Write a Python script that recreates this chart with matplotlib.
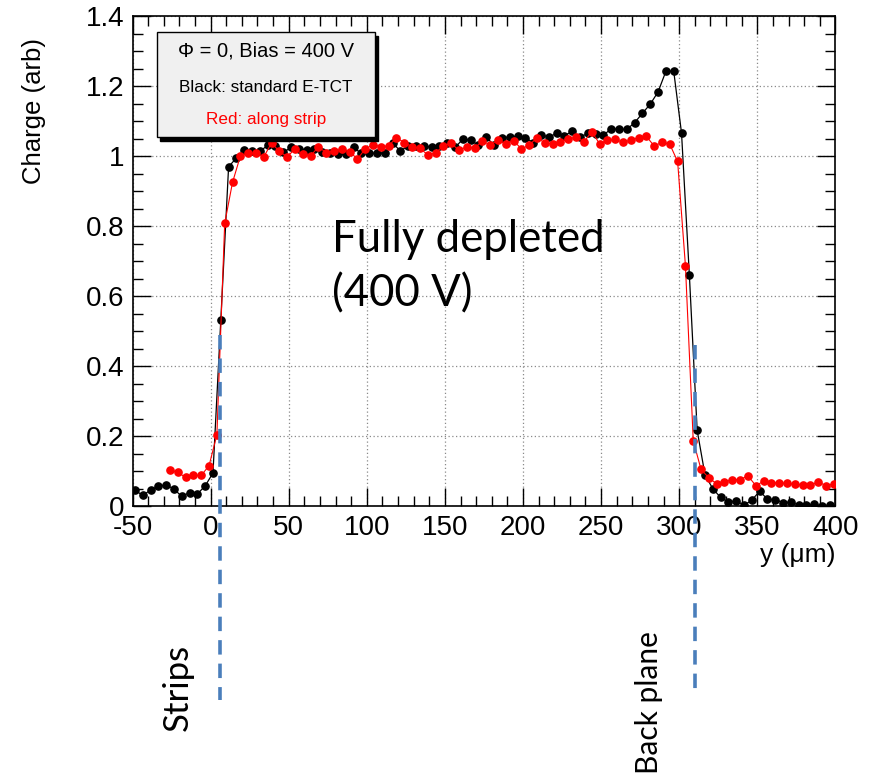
import numpy as np
import matplotlib
matplotlib.use("Agg")
import matplotlib.pyplot as plt
from matplotlib.patches import Rectangle
from matplotlib.ticker import MultipleLocator, FormatStrFormatter

# Scan positions (um): both scans step by 5 um
y_black = np.arange(-48.5, 400, 5.0)
y_red = np.arange(-26.0, 401, 5.0)

# Standard E-TCT charge profile
q_black = [
    0.046, 0.031, 0.046, 0.057, 0.061, 0.049, 0.028, 0.039, 0.035, 0.058,
    0.095, 0.531, 0.970, 0.995, 1.018, 1.014, 1.014, 1.031, 1.028, 1.011,
    1.025, 1.020, 1.019, 1.021, 1.011, 1.010, 1.006, 1.006, 1.025, 1.008,
    1.010, 1.008, 1.010, 1.038, 1.015, 1.030, 1.028, 1.030, 1.025, 1.030,
    1.037, 1.025, 1.049, 1.046, 1.031, 1.055, 1.031, 1.053, 1.055, 1.057,
    1.053, 1.039, 1.061, 1.055, 1.065, 1.059, 1.071, 1.055, 1.065, 1.063,
    1.060, 1.079, 1.077, 1.077, 1.096, 1.123, 1.149, 1.184, 1.243, 1.243,
    1.066, 0.662, 0.217, 0.090, 0.050, 0.025, 0.012, 0.015, 0.003, 0.017,
    0.043, 0.020, 0.019, 0.010, 0.012, 0.003, 0.002, 0.006, 0.000, 0.004,
]

# Charge profile with the laser along the strip
q_red = [
    0.103, 0.097, 0.082, 0.088, 0.088, 0.116,
    0.204, 0.808, 0.925, 1.000, 1.008, 1.008, 0.998, 1.038, 1.014, 0.998,
    1.021, 1.005, 1.001, 1.027, 1.010, 1.015, 1.020, 1.013, 0.992, 1.021,
    1.033, 1.027, 1.030, 1.053, 1.039, 1.027, 1.023, 1.004, 1.009, 1.030,
    1.037, 1.017, 1.027, 1.023, 1.044, 1.032, 1.046, 1.036, 1.044, 1.021,
    1.032, 1.053, 1.038, 1.036, 1.042, 1.049, 1.055, 1.041, 1.070, 1.036,
    1.045, 1.048, 1.040, 1.046, 1.053, 1.057, 1.029, 1.040, 1.034, 0.985,
    0.687, 0.187, 0.105, 0.081, 0.064, 0.069, 0.076, 0.076, 0.087, 0.059,
    0.071, 0.067, 0.067, 0.065, 0.063, 0.061, 0.060, 0.069, 0.059, 0.063,
]

x_ticks = [-50, 0, 50, 100, 150, 200, 250, 300, 350, 400]
y_ticks = [0, 0.2, 0.4, 0.6, 0.8, 1.0, 1.2, 1.4]

# Sensor boundaries (um)
strips_pos = 6
back_pos = 310

root_font = "Liberation Sans"
note_font = "Lato"

fig = plt.figure(figsize=(8.72, 7.74), dpi=100)
ax = fig.add_axes([0.152, 0.346, 0.806, 0.633])

ax.plot(y_black, q_black, color="black", lw=0.9, marker="o", ms=5.2,
        mec="black", mfc="black", zorder=3)
ax.plot(y_red, q_red, color="red", lw=0.8, marker="o", ms=5.2,
        mec="red", mfc="red", zorder=4)

ax.set_xlim(-50, 400)
ax.set_ylim(0, 1.4)
ax.set_xticks(x_ticks)
ax.set_yticks(y_ticks)
ax.xaxis.set_minor_locator(MultipleLocator(10))
ax.yaxis.set_minor_locator(MultipleLocator(0.05))
ax.yaxis.set_major_formatter(FormatStrFormatter("%g"))
ax.xaxis.set_major_formatter(FormatStrFormatter("%g"))

ax.tick_params(which="both", direction="in", top=True, right=True,
               labelsize=20, pad=6, width=1.0)
ax.tick_params(which="major", length=13)
ax.tick_params(which="minor", length=7)
for lab in ax.get_xticklabels() + ax.get_yticklabels():
    lab.set_fontfamily(root_font)

for s in ax.spines.values():
    s.set_linewidth(1.2)

ax.grid(True, which="major", color="#8a8a8a", linestyle=(0, (1, 2)), lw=0.9)
ax.set_axisbelow(True)

ax.set_xlabel("y (μm)", fontsize=19, family=root_font, loc="right")
ax.xaxis.set_label_coords(1.0, -0.075)
ax.set_ylabel("Charge (arb)", fontsize=18.5, family=root_font, loc="top")
ax.yaxis.set_label_coords(-0.123, 0.955)

# Info box with drop shadow
bx0, by0, bw, bh = 0.0346, 0.753, 0.310, 0.214
sh = Rectangle((bx0 + 0.005, by0 - 0.007), bw, bh, transform=ax.transAxes,
               facecolor="black", edgecolor="black", zorder=6)
box = Rectangle((bx0, by0), bw, bh, transform=ax.transAxes,
                facecolor="#f0f0f0", edgecolor="black", lw=1.0, zorder=7)
ax.add_patch(sh)
ax.add_patch(box)
cx = bx0 + bw / 2
ax.text(cx, 0.929, "Φ = 0, Bias = 400 V", transform=ax.transAxes,
        ha="center", va="center", fontsize=14.5, family=root_font, zorder=8)
ax.text(cx, 0.855, "Black: standard E-TCT", transform=ax.transAxes,
        ha="center", va="center", fontsize=12.3, family=root_font, zorder=8)
ax.text(cx, 0.789, "Red: along strip", transform=ax.transAxes,
        ha="center", va="center", fontsize=12.3, family=root_font,
        color="red", zorder=8)

ax.text(78, 0.684, "Fully depleted\n(400 V)", fontsize=31.5, family=note_font,
        ha="left", va="center", linespacing=1.42, zorder=5)

# Sensor boundary markers extending below the frame
blue = "#4a7ebb"
ax.plot([strips_pos, strips_pos], [0.49, -0.555], color=blue, lw=2.6,
        ls=(0, (4, 2.5)), clip_on=False, zorder=5)
ax.plot([back_pos, back_pos], [0.46, -0.53], color=blue, lw=2.6,
        ls=(0, (4, 2.5)), clip_on=False, zorder=5)

fig.text(178 / 872, 1 - 687 / 774, "Strips", rotation=90, fontsize=25,
         family=note_font, ha="center", va="center")
fig.text(649 / 872, 1 - 703 / 774, "Back plane", rotation=90, fontsize=21.5,
         family=note_font, ha="center", va="center")

fig.savefig("out.png", dpi=100)
